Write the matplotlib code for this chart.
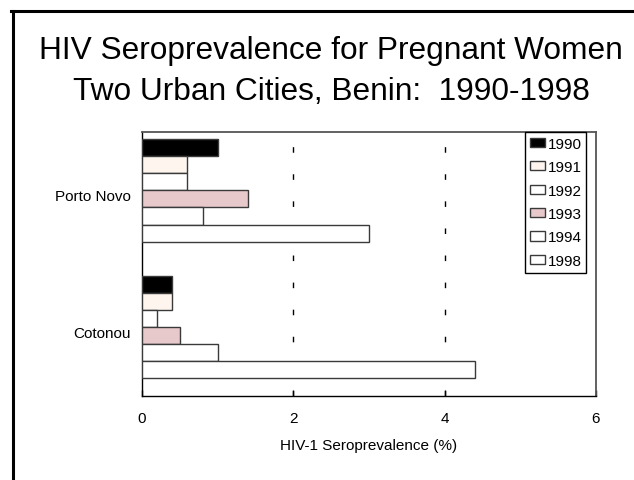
import matplotlib
matplotlib.use("Agg")
import matplotlib.pyplot as plt
from matplotlib.lines import Line2D
import numpy as np

plt.rcParams['font.family'] = ['Liberation Sans', 'DejaVu Sans']
plt.rcParams['lines.scale_dashes'] = False

cities = ['Cotonou', 'Porto Novo']
years = ['1990', '1991', '1992', '1993', '1994', '1998']
# values per year, in city order (Cotonou, Porto Novo)
v1990 = [0.4, 1.0]
v1991 = [0.4, 0.6]
v1992 = [0.2, 0.6]
v1993 = [0.5, 1.4]
v1994 = [1.0, 0.8]
v1998 = [4.4, 3.0]
values = [v1990, v1991, v1992, v1993, v1994, v1998]
colors = ['#000000', '#fdf5ee', '#ffffff', '#e8c9cb', '#ffffff', '#ffffff']

W, H = 634, 481
fig = plt.figure(figsize=(W / 100, H / 100), dpi=100)

# slide frame
fig.add_artist(Line2D([11 / W, 1], [1 - 11.5 / H, 1 - 11.5 / H], color='black', lw=2.2,
                      transform=fig.transFigure, solid_capstyle='projecting'))
fig.add_artist(Line2D([12.5 / W, 12.5 / W], [0, 1 - 11.5 / H], color='black', lw=2.2,
                      transform=fig.transFigure, solid_capstyle='projecting'))

fig.text(331 / W, 1 - 59 / H, 'HIV Seroprevalence for Pregnant Women', ha='center',
         va='baseline', fontsize=22.8)
fig.text(331 / W, 1 - 100 / H, 'Two Urban Cities, Benin:  1990-1998', ha='center',
         va='baseline', fontsize=22.8)

ax = fig.add_axes([142 / W, 1 - 397 / H, 454 / W, 264 / H])
h = 0.125
y = np.arange(len(cities))
for i, (yr, vals, c) in enumerate(zip(years, values, colors)):
    ax.barh(y + (2.5 - i) * h, vals, height=h, color=c, edgecolor='#3a3a3a',
            linewidth=1.0, label=yr, zorder=3)

for gx in [2, 4]:
    ax.axvline(gx, color='black', lw=1.0, linestyle=(0, (4, 15.5)), zorder=1)

ax.set_xlim(0, 6)
ax.set_ylim(-0.504, 1.427)
ax.set_xticks([0, 2, 4, 6])
ax.set_yticks(y - 0.03)
ax.set_yticklabels(cities)
ax.tick_params(axis='y', length=0, pad=8, labelsize=11)
ax.tick_params(axis='x', direction='in', length=4, pad=11, labelsize=11, width=1)
ax.set_xlabel('HIV-1 Seroprevalence (%)', fontsize=11, labelpad=9)
for s in ['left', 'bottom']:
    ax.spines[s].set_color('black')
    ax.spines[s].set_linewidth(1.0)
for s in ['top', 'right']:
    ax.spines[s].set_color('#555555')
    ax.spines[s].set_linewidth(1.3)

leg = ax.legend(loc='upper right', bbox_to_anchor=(0.978, 1.0), borderaxespad=0,
                fontsize=11, fancybox=False, edgecolor='black', framealpha=1,
                handlelength=1.0, handleheight=0.55, handletextpad=0.15,
                labelspacing=0.62, borderpad=0.3)
leg.get_frame().set_linewidth(1.0)

fig.savefig('out.png', dpi=100)
